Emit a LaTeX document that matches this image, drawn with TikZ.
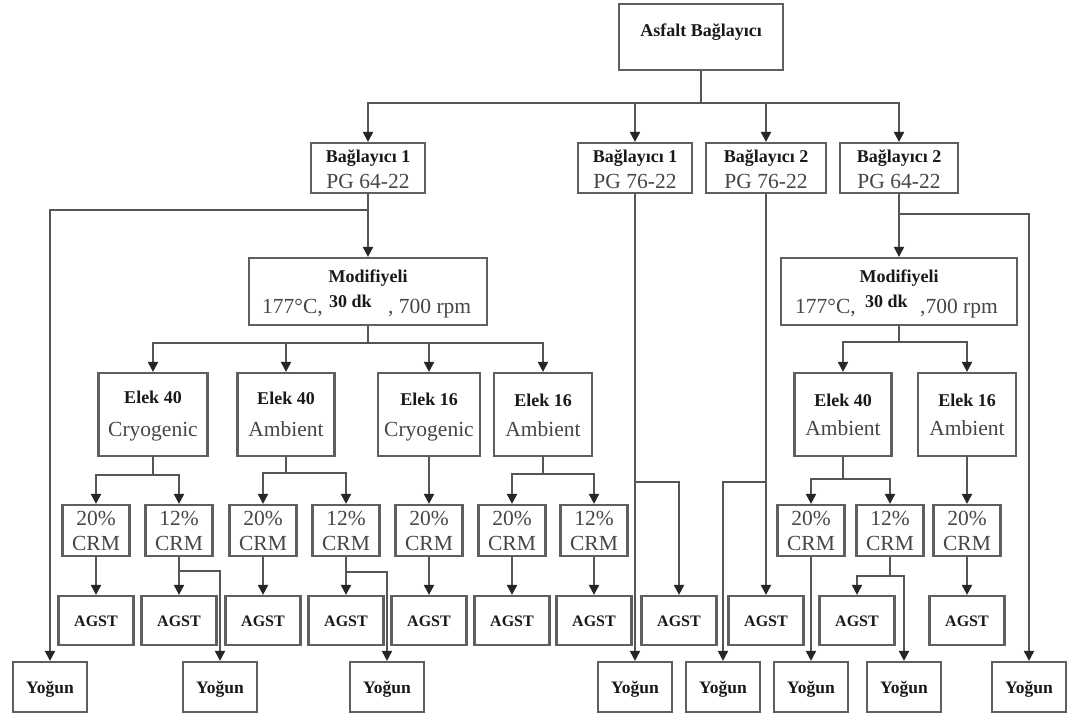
\documentclass[tikz,border=0pt]{standalone}
\usepackage{fontspec}
\setmainfont{Liberation Serif}
\usetikzlibrary{arrows.meta}
\definecolor{txtgray}{RGB}{70,70,70}
\definecolor{linegray}{RGB}{85,85,85}
\definecolor{boxgray}{RGB}{95,95,95}
\newcommand{\boldlab}{\fontsize{18}{20}\selectfont\bfseries}
\newcommand{\agstlab}{\fontsize{16}{18}\selectfont\bfseries}
\newcommand{\graylab}{\fontsize{21.5}{24}\selectfont}
\begin{document}
\begin{tikzpicture}[x=1pt,y=-1pt,
  box/.style={draw=boxgray,line width=2.2pt,inner sep=0pt,fill=white},
  conn/.style={draw=linegray,line width=2pt},
  arr/.style={conn,-{Triangle[width=10pt,length=10pt,color=black!85]}},
  bt/.style={font=\boldlab,text=black!90,anchor=base,inner sep=0pt},
  agstt/.style={font=\agstlab,text=black!90,anchor=base,inner sep=0pt},
  gt/.style={font=\graylab,text=txtgray,anchor=base,inner sep=0pt},
  gtw/.style={font=\graylab,text=txtgray,anchor=base west,inner sep=0pt},
  btw/.style={font=\boldlab,text=black!90,anchor=base west,inner sep=0pt}]
\useasboundingbox[fill=white] (0,0) rectangle (1074,714);

% ---------- boxes ----------
\node[box,minimum width=164,minimum height=66] (top) at (701,37) {};
\node[bt] (topt) at (701,37) {Asfalt Bağlayıcı};

\node[box,minimum width=114,minimum height=50] (b1) at (368,168) {};
\node[bt] (b1a) at (368,163) {Bağlayıcı 1};
\node[gt] (b1b) at (368,189) {PG 64-22};
\node[box,minimum width=114,minimum height=50] (b2) at (635,168) {};
\node[bt] (b2a) at (635,163) {Bağlayıcı 1};
\node[gt] (b2b) at (635,189) {PG 76-22};
\node[box,minimum width=120,minimum height=50] (b3) at (766,168) {};
\node[bt] (b3a) at (766,163) {Bağlayıcı 2};
\node[gt] (b3b) at (766,189) {PG 76-22};
\node[box,minimum width=118,minimum height=50] (b4) at (899,168) {};
\node[bt] (b4a) at (899,163) {Bağlayıcı 2};
\node[gt] (b4b) at (899,189) {PG 64-22};

\node[box,minimum width=238,minimum height=67] (mod1) at (368,291.5) {};
\node[bt] (mod1a) at (368,283) {Modifiyeli};
\node[gtw] (mod1b) at (262,313) {177°C,};
\node[btw] (mod1c) at (329,307) {30 dk};
\node[gtw] (mod1d) at (388,313) {, 700 rpm};
\node[box,minimum width=236,minimum height=67] (mod2) at (899,291.5) {};
\node[bt] (mod2a) at (899,283) {Modifiyeli};
\node[gtw] (mod2b) at (795,313) {177°C,};
\node[btw] (mod2c) at (865,307) {30 dk};
\node[gtw] (mod2d) at (920,313) {,700 rpm};

% Elek boxes
\node[box,minimum width=109,minimum height=83] (e1) at (153,414.5) {};
\node[bt] (e1a) at (153,403) {Elek 40};
\node[gt] (e1b) at (153,436) {Cryogenic};
\node[box,minimum width=97,minimum height=83] (e2) at (286,414.5) {};
\node[bt] (e2a) at (286,404) {Elek 40};
\node[gt] (e2b) at (286,436) {Ambient};
\node[box,minimum width=102,minimum height=83] (e3) at (429,414.5) {};
\node[bt] (e3a) at (429,405) {Elek 16};
\node[gt] (e3b) at (429,436) {Cryogenic};
\node[box,minimum width=98,minimum height=83] (e4) at (543,414.5) {};
\node[bt] (e4a) at (543,406) {Elek 16};
\node[gt] (e4b) at (543,436) {Ambient};
\node[box,minimum width=97,minimum height=83] (e5) at (843,414.5) {};
\node[bt] (e5a) at (843,406) {Elek 40};
\node[gt] (e5b) at (843,435) {Ambient};
\node[box,minimum width=98,minimum height=83] (e6) at (967,414.5) {};
\node[bt] (e6a) at (967,406) {Elek 16};
\node[gt] (e6b) at (967,435) {Ambient};

% CRM boxes
\foreach \n/\x/\p in {c1/96/20,c2/179/12,c3/263/20,c4/346/12,c5/429/20,c6/512/20,c7/594/12,c8/811/20,c9/890/12,c10/967/20}{
  \node[box,minimum width=67,minimum height=51] (\n) at (\x,530.5) {};
  \node[gt] (\n a) at (\x,525) {\p\%};
  \node[gt] (\n b) at (\x,550) {CRM};
}

% AGST boxes
\foreach \n/\x in {a1/96,a2/179,a3/263,a4/346,a5/429,a6/512,a7/594,a8/679,a9/766,a10/857,a11/967}{
  \node[box,minimum width=75,minimum height=49] (\n) at (\x,620.5) {};
  \node[agstt] (\n t) at (\x,626) {AGST};
}

% Yogun boxes
\foreach \n/\x in {y1/50,y2/220,y3/387,y4/635,y5/723,y6/811,y7/904,y8/1029}{
  \node[box,minimum width=74,minimum height=50] (\n) at (\x,687) {};
  \node[bt,font=\fontsize{17.5}{19}\selectfont\bfseries] (\n t) at (\x,693) {Yoğun};
}

% ---------- connectors ----------
\coordinate (jt) at (701,103);
\draw[conn] (top.south) -- (jt);
\draw[arr] (jt) -| (b1.north);
\draw[arr] (jt) -| (b2.north);
\draw[arr] (jt) -| (b3.north);
\draw[arr] (jt) -| (b4.north);

\coordinate (j1) at (368,210);
\draw[arr] (b1.south) -- (mod1.north);
\draw[arr] (j1) -| (y1.north);

\coordinate (j2) at (635,482);
\draw[arr] (b2.south) -- (y4.north);
\draw[arr] (j2) -| (a8.north);

\coordinate (j3) at (766,482);
\draw[arr] (b3.south) -- (a9.north);
\draw[arr] (j3) -| (y5.north);

\coordinate (j4) at (899,214);
\draw[arr] (b4.south) -- (mod2.north);
\draw[arr] (j4) -| (y8.north);

\coordinate (jm1) at (368,343);
\draw[conn] (mod1.south) -- (jm1);
\foreach \e in {e1,e2,e3,e4} \draw[arr] (jm1) -| (\e.north);

\coordinate (jm2) at (899,342);
\draw[conn] (mod2.south) -- (jm2);
\foreach \e in {e5,e6} \draw[arr] (jm2) -| (\e.north);

\coordinate (je1) at (153,475);
\draw[conn] (e1.south) -- (je1);
\draw[arr] (je1) -| (c1.north);
\draw[arr] (je1) -| (c2.north);

\coordinate (je2) at (286,473);
\draw[conn] (e2.south) -- (je2);
\draw[arr] (je2) -| (c3.north);
\draw[arr] (je2) -| (c4.north);

\draw[arr] (e3.south) -- (c5.north);

\coordinate (je4) at (543,474);
\draw[conn] (e4.south) -- (je4);
\draw[arr] (je4) -| (c6.north);
\draw[arr] (je4) -| (c7.north);

\coordinate (je5) at (843,479);
\draw[conn] (e5.south) -- (je5);
\draw[arr] (je5) -| (c8.north);
\draw[arr] (je5) -| (c9.north);

\draw[arr] (e6.south) -- (c10.north);

\draw[arr] (c1.south) -- (a1.north);
\draw[arr] (c2.south) -- (a2.north);
\coordinate (jc2) at (179,571);
\draw[arr] (jc2) -| (y2.north);
\draw[arr] (c3.south) -- (a3.north);
\draw[arr] (c4.south) -- (a4.north);
\coordinate (jc4) at (346,572);
\draw[arr] (jc4) -| (y3.north);
\draw[arr] (c5.south) -- (a5.north);
\draw[arr] (c6.south) -- (a6.north);
\draw[arr] (c7.south) -- (a7.north);
\draw[arr] (c8.south) -- (y6.north);
\coordinate (jc9) at (890,576);
\draw[conn] (c9.south) -- (jc9);
\draw[arr] (jc9) -| (a10.north);
\draw[arr] (jc9) -| (y7.north);
\draw[arr] (c10.south) -- (a11.north);
\end{tikzpicture}
\end{document}
